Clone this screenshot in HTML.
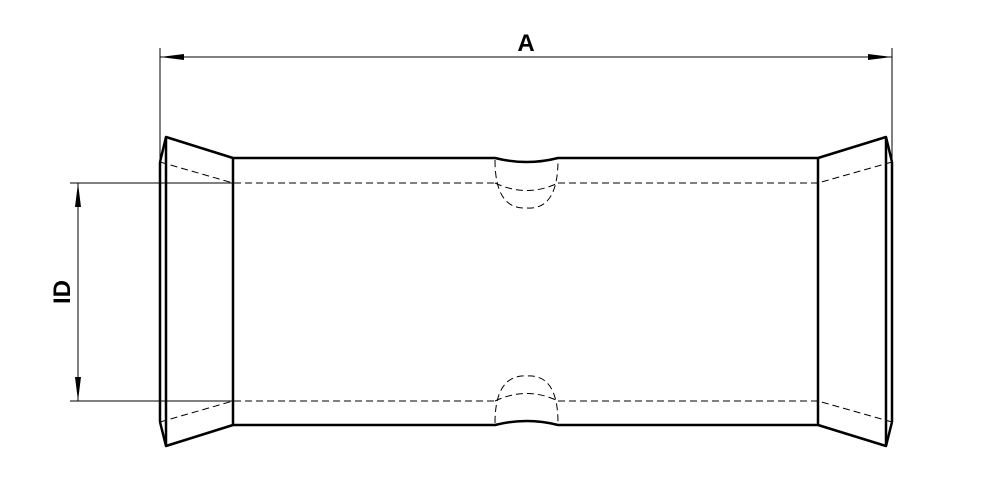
<!DOCTYPE html>
<html><head><style>body{margin:0;background:#fff}svg{display:block}</style></head><body>
<svg width="987" height="496" viewBox="0 0 987 496" xmlns="http://www.w3.org/2000/svg">
<defs><marker id="ar" markerWidth="24" markerHeight="8" refX="24" refY="4" orient="auto-start-reverse" markerUnits="userSpaceOnUse"><path d="M0,1 L24,4 L0,7 Z" fill="#000"/></marker></defs>
<g stroke="#000" stroke-width="1" fill="none">
<line x1="160" y1="48" x2="160" y2="160"/>
<line x1="892" y1="48" x2="892" y2="160"/>
<line x1="160" y1="57" x2="892" y2="57" marker-start="url(#ar)" marker-end="url(#ar)"/>
<line x1="70" y1="183" x2="233" y2="183"/>
<line x1="70" y1="401" x2="233" y2="401"/>
<line x1="78" y1="183" x2="78" y2="401" marker-start="url(#ar)" marker-end="url(#ar)"/>
</g>
<g stroke="#000" stroke-width="2.5" fill="none" stroke-linejoin="round">
<path d="M160,162 L166,137 L233,158 L495,158 Q527,166 558,158 L818,158 L886,137 L892,162"/>
<path d="M160,422 L166,446 L233,425 L495,425 Q527,417 558,425 L818,425 L886,446 L892,422"/>
<line x1="160" y1="162" x2="160" y2="422"/>
<line x1="166" y1="137" x2="166" y2="446"/>
<line x1="233" y1="158" x2="233" y2="425"/>
<line x1="818" y1="158" x2="818" y2="425"/>
<line x1="886" y1="137" x2="886" y2="446"/>
<line x1="892" y1="162" x2="892" y2="422"/>
</g>
<g stroke="#000" stroke-width="1" fill="none" stroke-dasharray="7,4">
<path d="M160,162 L233,183 L495,183 M558,183 L818,183 L892,162"/>
<path d="M160,422 L233,401 L495,401 M558,401 L818,401 L892,422"/>
<path d="M495,183 Q527,198 558,183"/>
<path d="M495,160 Q495,210 527,208 Q558,210 558,160"/>
<path d="M495,401 Q527,386 558,401"/>
<path d="M495,423 Q495,374 527,376 Q558,374 558,423"/>
</g>
<text x="526" y="51" font-family="Liberation Sans, sans-serif" font-weight="bold" font-size="24" text-anchor="middle">A</text>
<text transform="translate(70,292) rotate(-90)" font-family="Liberation Sans, sans-serif" font-weight="bold" font-size="24" text-anchor="middle">ID</text>
</svg>
</body></html>
